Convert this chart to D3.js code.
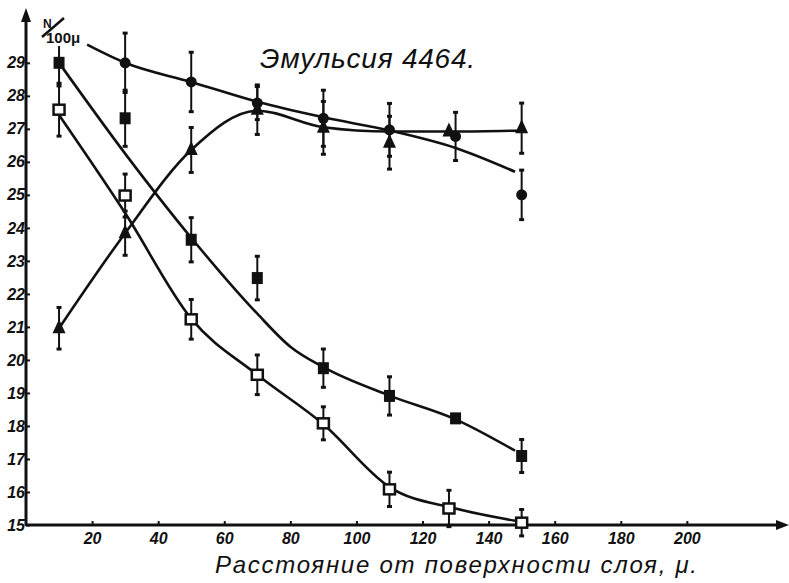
<!DOCTYPE html>
<html>
<head>
<meta charset="utf-8">
<script src="https://cdn.jsdelivr.net/npm/d3@7"></script>
<style>
  body { margin: 0; background: #fff; }
  svg text { font-family: "Liberation Sans", "DejaVu Sans", sans-serif; fill: #111; }
  .tick text { font-weight: bold; font-style: italic; font-size: 16px; }
</style>
</head>
<body>
<svg id="chart" width="789" height="583"></svg>
<script>
// tick labels
const xTicks = [20, 40, 60, 80, 100, 120, 140, 160, 180, 200];
const yTicks = [15, 16, 17, 18, 19, 20, 21, 22, 23, 24, 25, 26, 27, 28, 29];

// measured points (depth, value, half error bar)
const circleX = [30, 50, 70, 90, 110, 130, 150];
const circleVal = [29.0, 28.42, 27.78, 27.32, 26.97, 26.77, 25.0];
const circleErr = [0.9, 0.9, 0.5, 0.85, 0.8, 0.73, 0.75];

const triangleX = [10, 30, 50, 70, 90, 110, 128, 150];
const triangleVal = [20.96, 23.84, 26.36, 27.58, 27.03, 26.58, 26.92, 27.02];
const triangleErr = [0.63, 0.67, 0.68, 0.75, 0.8, 0.8, 0, 0.76];

const squareX = [10, 30, 50, 70, 90, 110, 130, 150];
const squareVal = [29.0, 27.32, 23.64, 22.48, 19.75, 18.91, 18.23, 17.09];
const squareErr = [0.7, 0.85, 0.67, 0.66, 0.58, 0.58, 0, 0.5];

const openX = [10, 30, 50, 70, 90, 110, 128, 150];
const openVal = [27.58, 24.98, 21.23, 19.55, 18.08, 16.08, 15.5, 15.07];
const openErr = [0.8, 0.65, 0.6, 0.6, 0.5, 0.52, 0.55, 0.4];

// hand drawn smoothing curves
const circleFitX = [18.5, 30, 50, 70, 90, 110, 130, 148];
const circleFitY = [29.55, 29.0, 28.42, 27.82, 27.35, 26.95, 26.42, 25.7];
const triangleFitX = [10, 30, 50, 70, 90, 110, 130, 150];
const triangleFitY = [20.96, 23.84, 26.36, 27.55, 27.05, 26.92, 26.92, 26.95];
const squareFitX = [10, 30, 50, 70, 80, 90, 110, 130, 148];
const squareFitY = [29.0, 26.25, 23.7, 21.4, 20.4, 19.78, 18.92, 18.2, 17.25];
const openFitX = [10, 30, 50, 70, 90, 110, 130, 148];
const openFitY = [27.42, 24.45, 21.25, 19.55, 18.05, 16.15, 15.5, 15.13];

const svg = d3.select('#chart');

const x = d3.scaleLinear().domain([0, 230]).range([26, 786]);
const y = d3.scaleLinear().domain([15, 30.6]).range([525, 10]);

// axes
svg.append('g')
  .attr('transform', 'translate(0,525)')
  .call(d3.axisBottom(x).tickValues(xTicks).tickSize(-4).tickPadding(8))
  .call(g => g.select('.domain').remove())
  .call(g => g.selectAll('.tick line').attr('stroke', '#111').attr('stroke-width', 2));

svg.append('g')
  .attr('transform', 'translate(26,0)')
  .call(d3.axisLeft(y).tickValues(yTicks).tickSize(-4).tickPadding(1))
  .call(g => g.select('.domain').remove())
  .call(g => g.selectAll('.tick line').attr('stroke', '#111').attr('stroke-width', 2));

svg.append('line')
  .attr('x1', x(0)).attr('x2', 780)
  .attr('y1', y(15)).attr('y2', y(15))
  .attr('stroke', '#111').attr('stroke-width', 3);
svg.append('path')
  .attr('d', 'M789,525 L776,520 L776,530 Z')
  .attr('fill', '#111');

svg.append('line')
  .attr('x1', x(0)).attr('x2', x(0))
  .attr('y1', y(15) + 1).attr('y2', 20)
  .attr('stroke', '#111').attr('stroke-width', 3);
svg.append('path')
  .attr('d', 'M26,8 L21,22 L31,22 Z')
  .attr('fill', '#111');

// curves
const line = d3.line()
  .x(d => x(d[0]))
  .y(d => y(d[1]))
  .curve(d3.curveMonotoneX);

const fits = [
  d3.zip(circleFitX, circleFitY),
  d3.zip(triangleFitX, triangleFitY),
  d3.zip(squareFitX, squareFitY),
  d3.zip(openFitX, openFitY)
];

svg.selectAll('path.fit')
  .data(fits)
  .enter()
  .append('path')
  .attr('class', 'fit')
  .attr('d', line)
  .attr('fill', 'none')
  .attr('stroke', '#111')
  .attr('stroke-width', 2.6);

// error bars
function errorBars(xs, vals, errs) {
  const pts = xs.map((d, i) => ({ x: d, v: vals[i], e: errs[i] })).filter(d => d.e > 0);
  const g = svg.append('g');
  g.selectAll('line.bar')
    .data(pts)
    .enter()
    .append('line')
    .attr('x1', d => x(d.x)).attr('x2', d => x(d.x))
    .attr('y1', d => y(d.v + d.e)).attr('y2', d => y(d.v - d.e))
    .attr('stroke', '#111').attr('stroke-width', 2);
  [1, -1].forEach(s => {
    g.selectAll('line.cap' + s)
      .data(pts)
      .enter()
      .append('line')
      .attr('x1', d => x(d.x) - 2.5).attr('x2', d => x(d.x) + 2.5)
      .attr('y1', d => y(d.v + s * d.e)).attr('y2', d => y(d.v + s * d.e))
      .attr('stroke', '#111').attr('stroke-width', 3);
  });
}

errorBars(circleX, circleVal, circleErr);
errorBars(triangleX, triangleVal, triangleErr);
errorBars(squareX, squareVal, squareErr);
errorBars(openX, openVal, openErr);

// markers
svg.append('g')
  .selectAll('circle')
  .data(d3.zip(circleX, circleVal))
  .enter()
  .append('circle')
  .attr('cx', d => x(d[0]))
  .attr('cy', d => y(d[1]))
  .attr('r', 5.5)
  .attr('fill', '#111');

svg.append('g')
  .selectAll('path')
  .data(d3.zip(triangleX, triangleVal))
  .enter()
  .append('path')
  .attr('d', d => {
    const cx = x(d[0]), cy = y(d[1]);
    return `M${cx},${cy - 9} L${cx + 6.5},${cy + 5} L${cx - 6.5},${cy + 5} Z`;
  })
  .attr('fill', '#111');

svg.append('g')
  .selectAll('rect')
  .data(d3.zip(squareX, squareVal))
  .enter()
  .append('rect')
  .attr('x', d => x(d[0]) - 5.5)
  .attr('y', d => y(d[1]) - 6)
  .attr('width', 11)
  .attr('height', 12)
  .attr('fill', '#111');

svg.append('g')
  .selectAll('rect')
  .data(d3.zip(openX, openVal))
  .enter()
  .append('rect')
  .attr('x', d => x(d[0]) - 5.5)
  .attr('y', d => y(d[1]) - 5)
  .attr('width', 11)
  .attr('height', 10)
  .attr('fill', '#fff')
  .attr('stroke', '#111')
  .attr('stroke-width', 2.5);

// unit label N/100μ
svg.append('rect')
  .attr('x', 38).attr('y', 14).attr('width', 48).attr('height', 32)
  .attr('fill', '#fff');
svg.append('text')
  .attr('x', 43).attr('y', 28)
  .attr('font-size', 12).attr('font-weight', 'bold')
  .text('N');
svg.append('line')
  .attr('x1', 42).attr('y1', 37).attr('x2', 64).attr('y2', 18)
  .attr('stroke', '#111').attr('stroke-width', 2.5);
svg.append('text')
  .attr('x', 46).attr('y', 43)
  .attr('font-size', 15).attr('font-weight', 'bold')
  .text('100μ');

// title
svg.append('text')
  .attr('x', 260).attr('y', 68)
  .attr('font-size', 28).attr('font-style', 'italic')
  .attr('textLength', 215)
  .text('Эмульсия 4464.');

// x axis title
svg.append('text')
  .attr('x', 215).attr('y', 573)
  .attr('font-size', 24).attr('font-style', 'italic')
  .attr('textLength', 482)
  .text('Расстояние от поверхности слоя, μ.');
</script>
</body>
</html>
